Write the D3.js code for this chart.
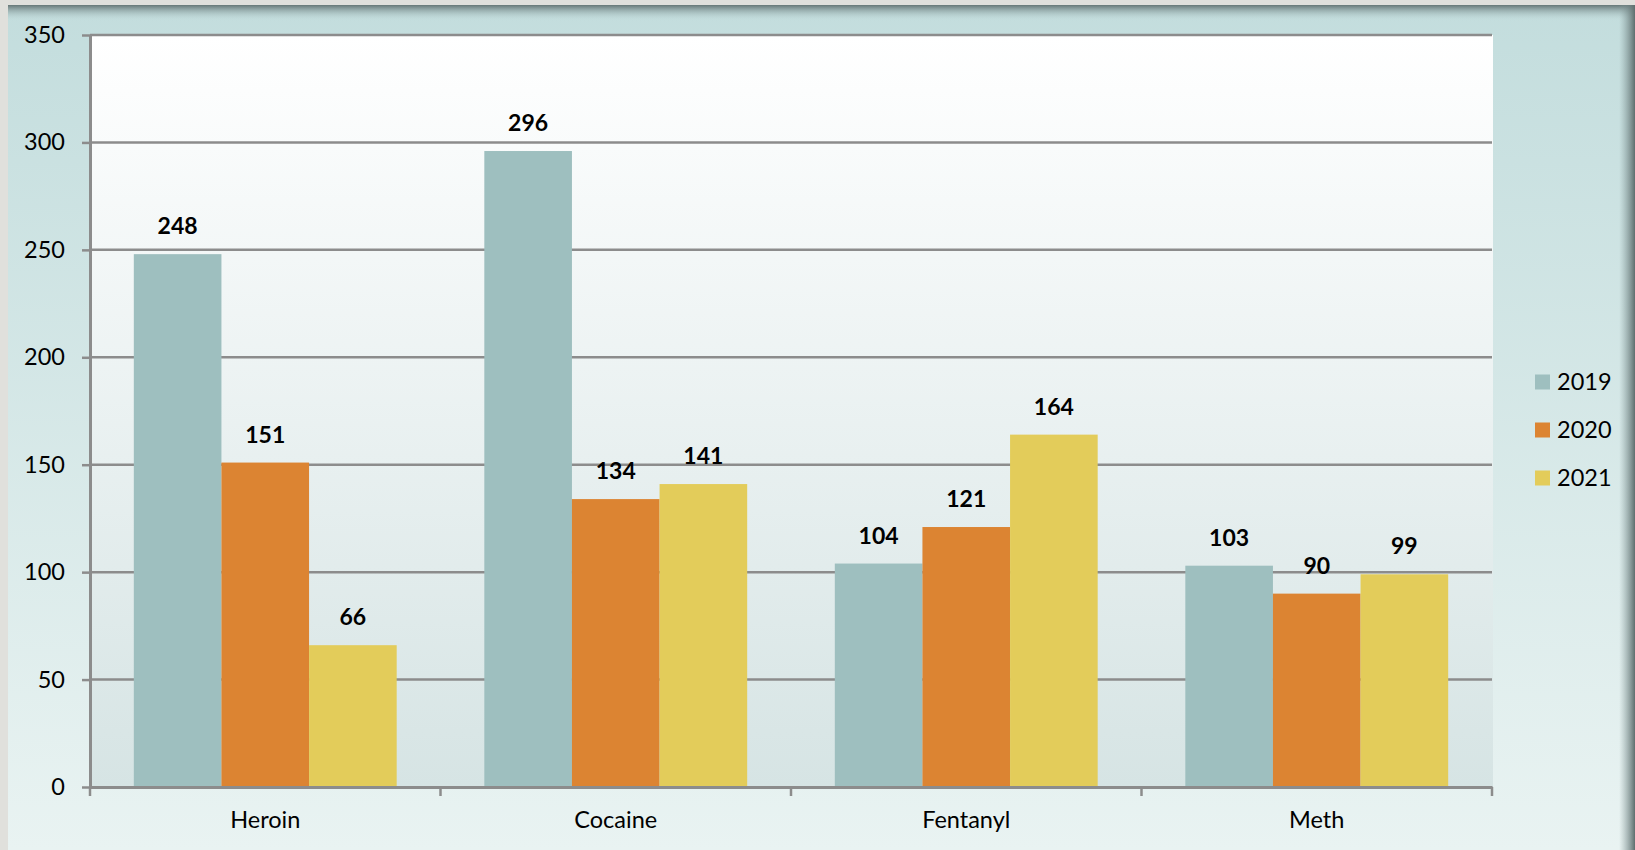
<!DOCTYPE html>
<html><head><meta charset="utf-8">
<script src="https://cdn.jsdelivr.net/npm/d3@7"></script>
<style>html,body{margin:0;padding:0;background:#e0e0dc;}svg{display:block;font-family:Lato,"Open Sans",sans-serif;}</style>
</head><body>
<script>
const categories = ["Heroin", "Cocaine", "Fentanyl", "Meth"];
const seriesNames = ["2019", "2020", "2021"];
const values2019 = [248, 296, 104, 103];
const values2020 = [151, 134, 121, 90];
const values2021 = [66, 141, 164, 99];
const yTicks = [0, 50, 100, 150, 200, 250, 300, 350];
const colors = ["#9ebfbf", "#dc8432", "#e3cc5a"];

const W = 1635, H = 850;
const seriesValues = [values2019, values2020, values2021];
const plot = {x0: 90, x1: 1492, y0: 35, y1: 787};

const svg = d3.select("body").append("svg").attr("width", W).attr("height", H);
const defs = svg.append("defs");
const og = defs.append("linearGradient").attr("id","outerG").attr("x1",0).attr("x2",0).attr("y1",0).attr("y2",1);
og.append("stop").attr("offset","0%").attr("stop-color","#c3dddd");
og.append("stop").attr("offset","100%").attr("stop-color","#e9f3f2");
const pg = defs.append("linearGradient").attr("id","plotG").attr("x1",0).attr("x2",0).attr("y1",0).attr("y2",1);
pg.append("stop").attr("offset","0%").attr("stop-color","#ffffff");
pg.append("stop").attr("offset","100%").attr("stop-color","#d6e4e4");
const tg = defs.append("linearGradient").attr("id","topShadow").attr("x1",0).attr("x2",0).attr("y1",0).attr("y2",1);
tg.append("stop").attr("offset","0%").attr("stop-color","#667777");
tg.append("stop").attr("offset","100%").attr("stop-color","#c3dddd").attr("stop-opacity",0);
const rg = defs.append("linearGradient").attr("id","rightShadow").attr("x1",0).attr("x2",1).attr("y1",0).attr("y2",0);
rg.append("stop").attr("offset","0%").attr("stop-color","#8aa0a0").attr("stop-opacity",0);
rg.append("stop").attr("offset","100%").attr("stop-color","#5e6e6e");

// frame
svg.append("rect").attr("x",0).attr("y",0).attr("width",W).attr("height",H).attr("fill","#e0e0dc");
svg.append("rect").attr("x",8).attr("y",5).attr("width",W-8).attr("height",H-5).attr("fill","url(#outerG)");
svg.append("rect").attr("x",8).attr("y",5).attr("width",W-8).attr("height",16).attr("fill","url(#topShadow)");
svg.append("rect").attr("x",1619).attr("y",5).attr("width",16).attr("height",H-5).attr("fill","url(#rightShadow)");

// plot background
svg.append("rect").attr("x",plot.x0).attr("y",plot.y0).attr("width",plot.x1-plot.x0+1).attr("height",plot.y1-plot.y0).attr("fill","url(#plotG)");

const x = d3.scaleBand().domain(categories).range([plot.x0, plot.x1]).paddingInner(0).paddingOuter(0);
const gap = x.bandwidth()/8;
const xs = d3.scaleBand().domain(seriesNames).range([gap, x.bandwidth()-gap]).padding(0);
const y = d3.scaleLinear().domain([0, 350]).range([plot.y1, plot.y0]);

// gridlines
svg.append("g").selectAll("line").data(yTicks.filter(d=>d>0)).join("line")
  .attr("x1",plot.x0).attr("x2",plot.x1).attr("y1",d=>y(d)).attr("y2",d=>y(d))
  .attr("stroke","#8c8c8c").attr("stroke-width",2.5);

// bars
const groups = svg.append("g").selectAll("g").data(categories).join("g")
  .attr("transform", d=>`translate(${x(d)},0)`);
seriesNames.forEach((s, si) => {
  groups.append("rect")
    .attr("x", xs(s)).attr("width", xs.bandwidth())
    .attr("y", (d,i)=>y(seriesValues[si][i]))
    .attr("height", (d,i)=>y(0)-y(seriesValues[si][i]))
    .attr("fill", colors[si]);
  groups.append("text")
    .attr("x", xs(s)+xs.bandwidth()/2)
    .attr("y", (d,i)=>y(seriesValues[si][i]) - 20)
    .attr("text-anchor","middle").attr("font-weight","bold").attr("font-size",23).attr("fill","#000")
    .text((d,i)=>seriesValues[si][i]);
});

// y axis
const yAxis = svg.append("g").attr("transform",`translate(${plot.x0},0)`)
  .call(d3.axisLeft(y).tickValues(yTicks).tickSize(8).tickPadding(17).tickSizeOuter(0));
yAxis.select(".domain").attr("stroke","#8c8c8c").attr("stroke-width",3);
yAxis.selectAll(".tick line").attr("stroke","#8c8c8c").attr("stroke-width",2.5);
yAxis.selectAll(".tick text").attr("font-size",23.5).attr("fill","#000").attr("font-family","Lato,sans-serif");

// x axis
const xAxis = svg.append("g").attr("transform",`translate(0,${plot.y1})`)
  .call(d3.axisBottom(x).tickSize(0).tickPadding(24).tickSizeOuter(0));
xAxis.select(".domain").attr("stroke","#8c8c8c").attr("stroke-width",3);
xAxis.selectAll(".tick text").attr("font-size",23.5).attr("fill","#000").attr("font-family","Lato,sans-serif");
// boundary tick marks between categories
const bounds = categories.map(c=>x(c)).concat([plot.x1]);
svg.append("g").selectAll("line").data(bounds).join("line")
  .attr("x1",d=>d).attr("x2",d=>d).attr("y1",plot.y1).attr("y2",plot.y1+9)
  .attr("stroke","#8c8c8c").attr("stroke-width",2.5);

// legend
const legend = svg.append("g").selectAll("g").data(seriesNames).join("g")
  .attr("transform",(d,i)=>`translate(1535,${382 + i*48})`);
legend.append("rect").attr("x",0).attr("y",-7.5).attr("width",15).attr("height",15).attr("fill",(d,i)=>colors[i]);
legend.append("text").attr("x",22).attr("y",0).attr("dy","0.36em").attr("font-size",23.5).attr("fill","#000").text(d=>d);
</script>
</body></html>
